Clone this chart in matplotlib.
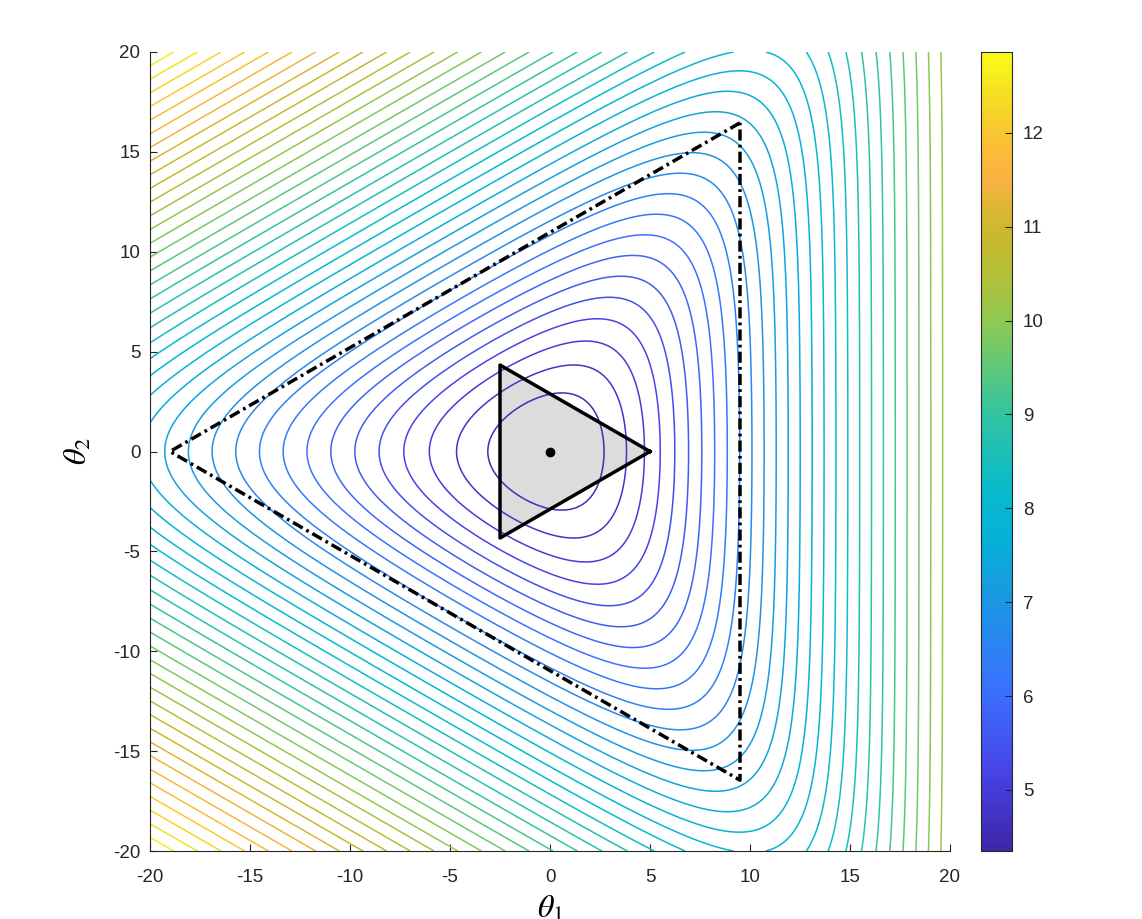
import numpy as np
import matplotlib
matplotlib.use('Agg')
import matplotlib.pyplot as plt
from matplotlib.colors import LinearSegmentedColormap, Normalize
from matplotlib.cm import ScalarMappable

# surface: smooth max (log-sum-exp) over three directions 120 deg apart
theta_lim = [-20, 20]
n_grid = 241
normal_angles = [0, 120, 240]
sharpness = 0.3
z_min, z_max = 4.35, 12.86
n_levels = 41

# triangles
inner_radius = 5.0
inner_angles = [0, 120, 240]
outer_radius = 19.0
outer_angles = [60, 180, 300]
minimizer = [0.0, 0.0]

xticks = [-20, -15, -10, -5, 0, 5, 10, 15, 20]
cbar_ticks = [5, 6, 7, 8, 9, 10, 11, 12]

# approximate MATLAB parula
parula_pos = [0.0, 0.1, 0.2, 0.3, 0.4, 0.45, 0.55, 0.66, 0.72, 0.78, 0.84, 0.88, 0.93, 1.0]
parula_rgb = [(0.242, 0.150, 0.660), (0.279, 0.265, 0.909), (0.233, 0.442, 0.999),
              (0.120, 0.575, 0.900), (0.020, 0.700, 0.840), (0.030, 0.730, 0.800),
              (0.200, 0.770, 0.620), (0.550, 0.790, 0.330), (0.700, 0.750, 0.220),
              (0.800, 0.720, 0.180), (0.980, 0.700, 0.260), (0.990, 0.740, 0.220),
              (0.960, 0.840, 0.160), (0.977, 0.984, 0.081)]
parula = LinearSegmentedColormap.from_list('parula', list(zip(parula_pos, parula_rgb)))

t = np.linspace(theta_lim[0], theta_lim[1], n_grid)
T1, T2 = np.meshgrid(t, t)
ang = np.deg2rad(normal_angles)
proj = np.stack([np.cos(a) * T1 + np.sin(a) * T2 for a in ang])
h = np.log(np.exp(sharpness * proj).sum(axis=0)) / sharpness
Z = z_min + (h - h.min()) / (h.max() - h.min()) * (z_max - z_min)
levels = np.linspace(z_min, z_max, n_levels)

plt.rcParams['font.family'] = ['Liberation Sans', 'DejaVu Sans']
plt.rcParams['mathtext.fontset'] = 'stix'
plt.rcParams['axes.unicode_minus'] = False

fig = plt.figure(figsize=(11.42, 9.19), dpi=100)
ax = fig.add_axes([150 / 1142, 68 / 919, 800 / 1142, 799 / 919])
cax = fig.add_axes([981 / 1142, 68 / 919, 31 / 1142, 799 / 919])

norm = Normalize(z_min, z_max)
ax.contour(T1, T2, Z, levels=levels, cmap=parula, norm=norm, linewidths=1.1, zorder=2)

ia = np.deg2rad(inner_angles)
inner = np.c_[inner_radius * np.cos(ia), inner_radius * np.sin(ia)]
ax.fill(inner[:, 0], inner[:, 1], color='#dcdcdc', zorder=1)
ax.plot(np.r_[inner[:, 0], inner[0, 0]], np.r_[inner[:, 1], inner[0, 1]],
        color='k', lw=2.5, zorder=3)

oa = np.deg2rad(outer_angles)
outer = np.c_[outer_radius * np.cos(oa), outer_radius * np.sin(oa)]
ax.plot(np.r_[outer[:, 0], outer[0, 0]], np.r_[outer[:, 1], outer[0, 1]],
        color='k', lw=2.5, ls=(0, (3.2, 1.2, 0.8, 1.2)), zorder=3)

ax.plot(minimizer[0], minimizer[1], 'o', color='k', ms=6, zorder=4)

ax.set_xlim(theta_lim)
ax.set_ylim(theta_lim)
ax.set_xticks(xticks)
ax.set_yticks(xticks)
for s in ['top', 'right']:
    ax.spines[s].set_visible(False)
for s in ['left', 'bottom']:
    ax.spines[s].set_color('#262626')
ax.tick_params(direction='in', length=5, labelsize=13.5, colors='#262626')
ax.tick_params(axis='x', pad=13)
ax.tick_params(axis='y', pad=7)
ax.set_xlabel(r'$\theta_1$', fontsize=23, labelpad=6)
ax.set_ylabel(r'$\theta_2$', fontsize=23, labelpad=14)

cb = fig.colorbar(ScalarMappable(norm=norm, cmap=parula), cax=cax)
cb.set_ticks(cbar_ticks)
cb.ax.tick_params(direction='in', length=5, labelsize=13.5, colors='#262626', pad=8)
cb.outline.set_edgecolor('#262626')

fig.savefig('out.png', dpi=100)
